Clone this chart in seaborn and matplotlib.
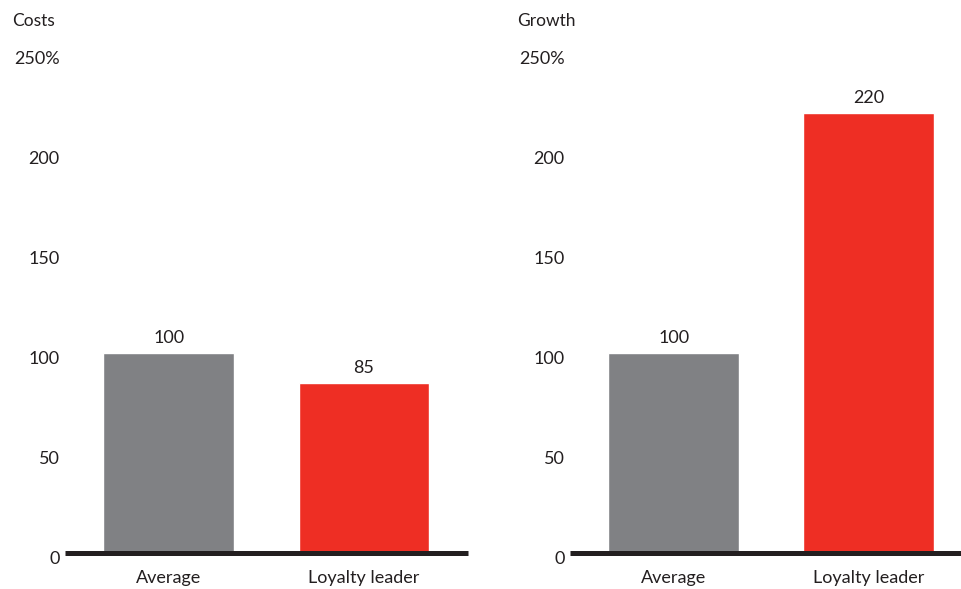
import matplotlib
matplotlib.use("Agg")
import matplotlib.pyplot as plt
import matplotlib.transforms as mtransforms
import seaborn as sns
import pandas as pd

categories = ["Average", "Loyalty leader"]
costs = [100, 85]
growth = [100, 220]
titles = ["Costs", "Growth"]
yticks = [0, 50, 100, 150, 200, 250]
ytick_labels = ["0", "50", "100", "150", "200", "250%"]

GRAY = "#808184"
RED = "#EE2E24"
DARK = "#231F20"

sns.set_theme(style="white")
plt.rcParams["font.family"] = ["Lato", "DejaVu Sans"]
plt.rcParams["text.color"] = DARK

fig = plt.figure(figsize=(9.61, 5.89), dpi=100)
bottom = (589 - 553) / 589
height = (553 - 53) / 589

panels = [
    (costs, titles[0], [65 / 961, bottom, (468 - 65) / 961, height], (-0.53, 1.532)),
    (growth, titles[1], [570 / 961, bottom, (961 - 570) / 961, height], (-0.532, 1.475)),
]

for values, title, pos, xlim in panels:
    ax = fig.add_axes(pos)
    df = pd.DataFrame({"cat": categories, "val": values})
    sns.barplot(data=df, x="cat", y="val", hue="cat", palette=[GRAY, RED],
                width=0.67, legend=False, ax=ax, saturation=1)
    ax.set_xlim(*xlim)
    ax.set_ylim(0, 250)
    for s in ax.spines.values():
        s.set_visible(False)
    ax.axhline(0, color=DARK, linewidth=3.6, zorder=5, clip_on=False,
               solid_capstyle="butt")
    ax.set_yticks(yticks)
    ax.set_yticklabels(ytick_labels)
    ax.tick_params(axis="y", length=0, pad=4, labelsize=13, labelcolor=DARK)
    ax.tick_params(axis="x", length=0, pad=12, labelsize=13, labelcolor=DARK)
    off = mtransforms.ScaledTranslation(0, -4 / 100, fig.dpi_scale_trans)
    for lab in ax.get_yticklabels():
        lab.set_transform(lab.get_transform() + off)
    ax.set_xlabel("")
    ax.set_ylabel("")
    for i, v in enumerate(values):
        ax.text(i, v + 3.5, f"{v}", ha="center", va="bottom", fontsize=13, color=DARK)
    bb = ax.get_position()
    fig.text(bb.x0 - 53 / 961, 1 - 21 / 589, title, ha="left", va="center", fontsize=12.5, color=DARK)

fig.savefig("out.png", dpi=100)
